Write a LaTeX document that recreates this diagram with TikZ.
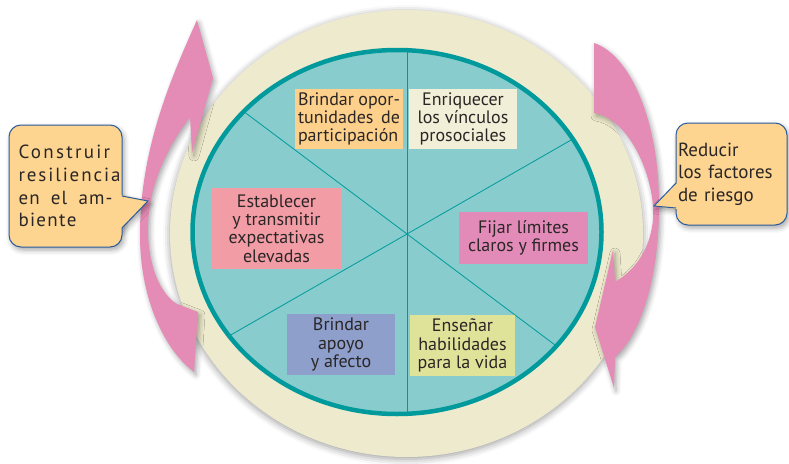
\documentclass[tikz,border=0pt]{standalone}
\usepackage{fontspec}
\setmainfont{PT Sans}
\usepackage{tikz}
\usetikzlibrary{shadows.blur}

\definecolor{cream}{HTML}{EEEACD}
\definecolor{tealfill}{HTML}{88CCCD}
\definecolor{tealline}{HTML}{009A9C}
\definecolor{arrowpink}{HTML}{E48BB6}
\definecolor{calloutfill}{HTML}{FDD590}
\definecolor{calloutline}{HTML}{2A5C9E}
\definecolor{inktext}{HTML}{2B2626}
\definecolor{boxorange}{HTML}{FDD08B}
\definecolor{boxcream}{HTML}{F2EFD8}
\definecolor{boxrose}{HTML}{F29CA6}
\definecolor{boxmagenta}{HTML}{E38BB8}
\definecolor{boxblue}{HTML}{8E9FCC}
\definecolor{boxlime}{HTML}{DFE39A}

\tikzset{
  wedgebox/.style={inner sep=0pt, align=center, text=inktext,
    font=\fontsize{18}{18.3}\selectfont},
  divline/.style={draw=tealline, line width=0.8pt},
  softshadow/.style={blur shadow={shadow xshift=2pt, shadow yshift=-3pt,
    shadow blur radius=5pt, shadow opacity=35}},
  bubble/.style={fill=calloutfill, draw=calloutline, line width=1pt,
    rounded corners=12pt, softshadow, text=inktext,
    font=\fontsize{19}{22.7}\selectfont, align=left},
  bandarrow/.style={fill=arrowpink, softshadow},
}

\begin{document}
\begin{tikzpicture}[x=1pt, y=-1pt]
    \useasboundingbox (0,0) rectangle (789,463);
    % outer ring
    \fill[cream, blur shadow={shadow xshift=0pt, shadow yshift=-2pt,
      shadow blur radius=7pt, shadow opacity=40}]
      (406.5,233.5) ellipse [x radius=236.5, y radius=223.5];
    % arrows round the ring
    \path[bandarrow] (197,20) -- (213,78) -- (192,153) -- (190,117)
      .. controls (165,150) and (147,190) .. (148,233)
      .. controls (149,270) and (162,295) .. (177,304)
      -- (198,312) -- (194,372)
      .. controls (165,350) and (140,300) .. (140,235)
      .. controls (140,150) and (170,80) .. (197,20) -- cycle;
    \path[bandarrow] (594,43)
      .. controls (630,55) and (659,120) .. (659,205)
      .. controls (659,280) and (640,335) .. (615,357)
      -- (614,388) -- (595,327) -- (613,250) -- (615,282)
      .. controls (635,270) and (650,250) .. (653,220)
      .. controls (656,180) and (630,118) .. (594,113) -- cycle;
    % wheel
    \fill[tealfill] (397,232) ellipse [x radius=204.5, y radius=182];
    \begin{scope}
      \clip (397,232) ellipse [x radius=204.5, y radius=182];
      \coordinate (hub) at (407,234);
      \draw[divline] (407,40) -- (407,425);
      \draw[divline] (167,54) -- (647,414);
      \draw[divline] (167,371.5) -- (647,96.5);
    \end{scope}
    \draw[tealline, line width=4.5pt] (397,232) ellipse [x radius=204.5, y radius=182];
    % the six boxes
    \node[wedgebox, fill=boxorange, minimum width=108pt, minimum height=60pt,
      text width=102pt, align=justify] (oportunidades) at (349,119)
      {Brindar opor-\linebreak tunidades de\linebreak participación};
    \node[wedgebox, fill=boxcream, minimum width=108pt, minimum height=60pt]
      (vinculos) at (463,119) {Enriquecer\\los vínculos\\prosociales};
    \node[wedgebox, fill=boxrose, minimum width=129pt, minimum height=81pt]
      (expectativas) at (276.5,228.5) {Establecer\\y transmitir\\expectativas\\elevadas};
    \node[wedgebox, fill=boxmagenta, minimum width=129pt, minimum height=52pt]
      (limites) at (523.5,238) {Fijar límites\\claros y firmes};
    \node[wedgebox, fill=boxblue, minimum width=108pt, minimum height=61pt]
      (apoyo) at (341,344.5) {Brindar\\apoyo\\y afecto};
    \node[wedgebox, fill=boxlime, minimum width=105pt, minimum height=61pt]
      (habilidades) at (462.5,345.5) {Enseñar\\habilidades\\para la vida};
    % callouts
    \coordinate (resiltip) at (148,201);
    \coordinate (riesgotip) at (654,206);
    \fill[calloutfill, softshadow] (121,195) -- (resiltip) -- (121,229) -- cycle;
    \fill[calloutfill, softshadow] (678,182) -- (riesgotip) -- (678,209) -- cycle;
    \node[bubble, minimum width=113pt, minimum height=122pt, text width=94pt,
      inner xsep=9.5pt] (resiliencia) at (65.5,186)
      {{\addfontfeature{LetterSpace=12}Construir}\\
       {\addfontfeature{LetterSpace=10}resiliencia}\\
       \makebox[94pt][s]{\addfontfeature{LetterSpace=6}en\hfill el\hfill am-}\\
       {\addfontfeature{LetterSpace=7}biente}};
    \node[bubble, minimum width=111pt, minimum height=102pt, text width=107pt,
      inner xsep=2pt] (riesgo) at (731.5,174)
      {Reducir\\los factores\\de riesgo};
    \fill[calloutfill] (120,195) -- (resiltip) -- (120,229) -- cycle;
    \draw[calloutline, line width=1pt] (122,196) -- (resiltip) -- (122,228);
    \fill[calloutfill] (678,182) -- (riesgotip) -- (678,209) -- cycle;
    \draw[calloutline, line width=1pt] (676,183) -- (riesgotip) -- (676,208);
\end{tikzpicture}
\end{document}
